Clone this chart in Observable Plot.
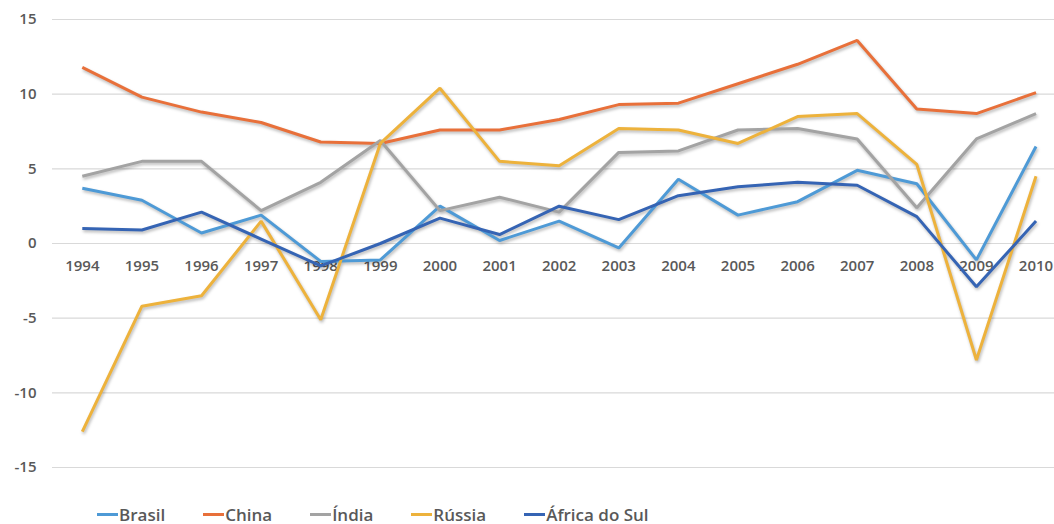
<!DOCTYPE html>
<html>
<head>
<meta charset="utf-8">
<script src="https://cdn.jsdelivr.net/npm/d3@7"></script>
<script src="https://cdn.jsdelivr.net/npm/@observablehq/plot@0.6"></script>
<style>
  html, body { margin: 0; padding: 0; background: #fff; overflow: hidden; }
  #chart { width: 1054px; height: 524px; position: relative; font-family: "Open Sans", sans-serif; }
  #chart svg g[aria-label="line"] { filter: drop-shadow(1px 2px 1.5px rgba(0,0,0,0.28)); }
  .legend { display: flex; align-items: center; gap: 38px; padding-left: 97px; height: 24px; margin-top: 6px;
            font-family: "Open Sans", sans-serif; font-weight: 600; font-size: 17px; color: #595959; }
  .legend .item { display: flex; align-items: center; }
  .legend .swatch { display: inline-block; width: 21px; height: 3px; margin-right: 1px; }
</style>
</head>
<body>
<div id="chart"></div>
<script>
const years = [1994,1995,1996,1997,1998,1999,2000,2001,2002,2003,2004,2005,2006,2007,2008,2009,2010];
const seriesNames = ["Brasil", "China", "Índia", "Rússia", "África do Sul"];
const seriesColors = ["#4e9ad6", "#e8703a", "#a3a3a3", "#edb23c", "#3564b4"];
const brasil = [3.7, 2.9, 0.7, 1.9, -1.2, -1.1, 2.5, 0.2, 1.5, -0.3, 4.3, 1.9, 2.8, 4.9, 4.0, -1.1, 6.5];
const china  = [11.8, 9.8, 8.8, 8.1, 6.8, 6.7, 7.6, 7.6, 8.3, 9.3, 9.4, 10.7, 12.0, 13.6, 9.0, 8.7, 10.1];
const india  = [4.5, 5.5, 5.5, 2.2, 4.1, 6.9, 2.2, 3.1, 2.1, 6.1, 6.2, 7.6, 7.7, 7.0, 2.4, 7.0, 8.7];
const russia = [-12.6, -4.2, -3.5, 1.5, -5.1, 6.7, 10.4, 5.5, 5.2, 7.7, 7.6, 6.7, 8.5, 8.7, 5.3, -7.8, 4.5];
const southAfrica = [1.0, 0.9, 2.1, 0.3, -1.5, 0.0, 1.7, 0.6, 2.5, 1.6, 3.2, 3.8, 4.1, 3.9, 1.8, -2.9, 1.5];
const yTicks = [-15, -10, -5, 0, 5, 10, 15];

const allSeries = [brasil, china, india, russia, southAfrica];
const rows = [];
allSeries.forEach((vals, i) => vals.forEach((v, j) => rows.push({serie: seriesNames[i], year: years[j], value: v})));

const plot = Plot.plot({
  width: 1054,
  height: 496,
  marginLeft: 52,
  marginRight: 0,
  marginTop: 19,
  marginBottom: 29,
  style: {fontFamily: "'Open Sans', sans-serif", fontSize: "15px", fontWeight: 600, color: "#595959", background: "#fff"},
  x: {domain: [1993.5, 2010.31], axis: null},
  y: {domain: [-15, 15], axis: null},
  color: {domain: seriesNames, range: seriesColors},
  marks: [
    Plot.ruleY(yTicks, {stroke: "#d9d9d9", strokeWidth: 1.2}),
    Plot.axisY(yTicks, {tickSize: 0, tickPadding: 16, label: null, tickFormat: d => String(d), fill: "#595959", fontSize: 15, fontWeight: 600}),
    Plot.text(years, {x: d => d, y: () => 0, dy: 23, text: d => String(d), fill: "#595959", fontSize: 15, fontWeight: 600}),
    Plot.lineY(rows, {x: "year", y: "value", z: "serie", stroke: "serie", strokeWidth: 3, strokeLinejoin: "miter", strokeLinecap: "butt"})
  ]
});

const chart = document.getElementById("chart");
chart.appendChild(plot);

const legend = document.createElement("div");
legend.className = "legend";
seriesNames.forEach((name, i) => {
  const item = document.createElement("div");
  item.className = "item";
  const sw = document.createElement("span");
  sw.className = "swatch";
  sw.style.background = seriesColors[i];
  const label = document.createElement("span");
  label.textContent = name;
  item.appendChild(sw);
  item.appendChild(label);
  legend.appendChild(item);
});
chart.appendChild(legend);
</script>
</body>
</html>
